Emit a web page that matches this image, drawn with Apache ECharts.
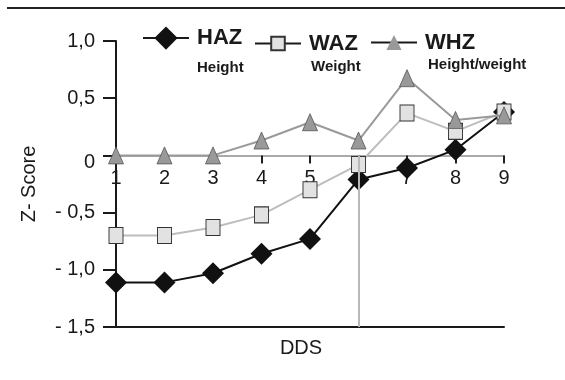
<!DOCTYPE html>
<html>
<head>
<meta charset="utf-8">
<script src="https://cdn.jsdelivr.net/npm/echarts@6/dist/echarts.min.js"></script>
<style>html,body{margin:0;padding:0;background:#fff}#c{width:565px;height:380px}</style>
</head>
<body>
<div id="c"></div>
<script>
var categories = [1, 2, 3, 4, 5, 6, 7, 8, 9];
var haz = [-1.11, -1.11, -1.03, -0.86, -0.73, -0.21, -0.11, 0.05, 0.38];
var waz = [-0.70, -0.70, -0.63, -0.52, -0.30, -0.08, 0.37, 0.21, 0.38];
var whz = [0.0, 0.0, 0.0, 0.13, 0.29, 0.13, 0.675, 0.31, 0.35];
var seriesNames = ['HAZ', 'WAZ', 'WHZ'];
var subLabels = ['Height', 'Weight', 'Height/weight'];
var yTicks = {'1': '1,0', '0.5': '0,5', '0': '{z|0}', '-0.5': '- 0,5', '-1': '- 1,0', '-1.5': '- 1,5'};
var yMin = -1.5, yMax = 1.0;
var refLineX = 6;

function pairs(vals) { return categories.map(function (c, i) { return [c, vals[i]]; }); }

var W = 565, H = 380, gTop = 41, gBottom = 53;
var gridH = H - gTop - gBottom;
var zeroOffset = -gridH * (0 - yMin) / (yMax - yMin);

var chart = echarts.init(document.getElementById('c'), null, {renderer: 'canvas'});
var font = 'Liberation Sans, Arial, Helvetica, sans-serif';
var legendText = {fontSize: 22, fontWeight: 'bold', color: '#1a1a1a', fontFamily: font, padding: [0, 0, 0, 3]};
function legendOf(name, left, ih, itemStyle) {
  var l = {
    left: left, top: 41 - ih / 2, padding: 0, itemWidth: 46, itemHeight: ih,
    data: [name], textStyle: legendText,
    lineStyle: {color: '#1a1a1a', width: 2}
  };
  if (itemStyle) l.itemStyle = itemStyle;
  return l;
}
var subFont = 'bold 15px ' + font;
chart.setOption({
  animation: false,
  textStyle: {fontFamily: font},
  grid: {left: 116, right: 61, top: gTop, bottom: gBottom, containLabel: false},
  legend: [
    legendOf(seriesNames[0], 142, 29),
    legendOf(seriesNames[1], 254, 17),
    legendOf(seriesNames[2], 370, 19, {borderWidth: 0})
  ],
  graphic: [
    {type: 'line', shape: {x1: 7, y1: 8, x2: 565, y2: 8}, style: {stroke: '#222', lineWidth: 2}},
    {type: 'text', left: 197, top: 60, style: {text: subLabels[0], font: subFont, fill: '#1a1a1a'}},
    {type: 'text', left: 311, top: 59, style: {text: subLabels[1], font: subFont, fill: '#1a1a1a'}},
    {type: 'text', left: 428, top: 57, style: {text: subLabels[2], font: subFont, fill: '#1a1a1a'}}
  ],
  xAxis: [{
    type: 'value', min: 1, max: 9, interval: 1, position: 'bottom', offset: zeroOffset,
    axisLine: {show: true, onZero: false, lineStyle: {color: '#aaaaaa', width: 2}},
    axisTick: {show: true, length: 8, lineStyle: {color: '#222', width: 2}},
    axisLabel: {fontSize: 20, color: '#1a1a1a', margin: 13, fontFamily: font},
    splitLine: {show: false}
  }, {
    type: 'value', min: 1, max: 9, interval: 1, position: 'bottom', offset: 0,
    axisLine: {show: true, onZero: false, lineStyle: {color: '#1a1a1a', width: 2}},
    axisTick: {show: false}, axisLabel: {show: false}, splitLine: {show: false},
    name: 'DDS', nameLocation: 'middle', nameGap: 11,
    nameTextStyle: {fontSize: 20, color: '#1a1a1a', padding: [0, 18, 0, 0], fontFamily: font}
  }],
  yAxis: {
    type: 'value', min: yMin, max: yMax, interval: 0.5,
    axisLine: {show: true, onZero: false, lineStyle: {color: '#1a1a1a', width: 2}},
    axisTick: {show: true, length: 13, lineStyle: {color: '#1a1a1a', width: 2}},
    axisLabel: {fontSize: 20, color: '#1a1a1a', margin: 21, fontFamily: font,
      formatter: function (v) { return yTicks[String(Math.round(v * 10) / 10)]; },
      rich: {z: {fontSize: 20, color: '#1a1a1a', fontFamily: font, padding: [14, 0, 0, 0]}}},
    splitLine: {show: false},
    name: 'Z- Score', nameLocation: 'middle', nameRotate: 90, nameGap: 77,
    nameTextStyle: {fontSize: 20, color: '#1a1a1a', fontFamily: font}
  },
  series: [{
    name: seriesNames[0], type: 'line', xAxisIndex: 0, data: pairs(haz), z: 3,
    symbol: 'diamond', symbolSize: [22, 22],
    lineStyle: {color: '#111', width: 2},
    itemStyle: {color: '#111', borderColor: '#111', borderWidth: 0},
    markLine: {silent: true, symbol: 'none', label: {show: false},
      lineStyle: {color: '#b8b8b8', width: 2, type: 'solid'},
      data: [[{coord: [refLineX, 0]}, {coord: [refLineX, yMin]}]]}
  }, {
    name: seriesNames[1], type: 'line', xAxisIndex: 0, data: pairs(waz), z: 4,
    symbol: 'rect', symbolSize: [14, 16],
    lineStyle: {color: '#bdbdbd', width: 2},
    itemStyle: {color: '#e2e2e2', borderColor: '#333', borderWidth: 1}
  }, {
    name: seriesNames[2], type: 'line', xAxisIndex: 0, data: pairs(whz), z: 5,
    symbol: 'triangle', symbolSize: [15, 17],
    lineStyle: {color: '#9a9a9a', width: 2},
    itemStyle: {color: '#999', borderColor: '#555', borderWidth: 0.8}
  }]
});
</script>
</body>
</html>
